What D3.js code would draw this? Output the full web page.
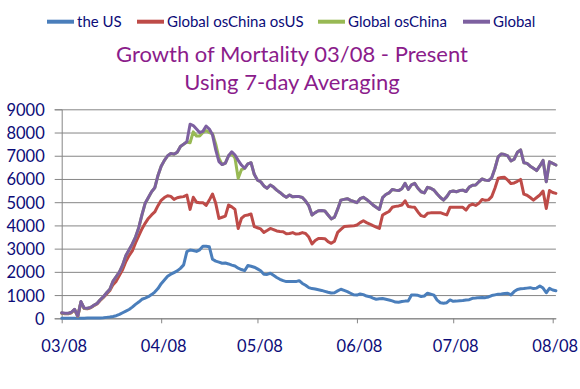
<!DOCTYPE html>
<html>
<head>
<meta charset="utf-8">
<script src="https://cdn.jsdelivr.net/npm/d3@7"></script>
<style>
  body { margin: 0; background: #fff; }
  svg { display: block; font-family: Lato, 'Open Sans', sans-serif; }
</style>
</head>
<body>
<svg id="chart" width="580" height="389"></svg>
<script>
// One value per day, starting on this date
const START_DATE = '2020-03-08';
const END_DATE = '2020-08-09';

// Axis ticks
const xTickDates = ['2020-03-08', '2020-04-08', '2020-05-08', '2020-06-08', '2020-07-08', '2020-08-08'];
const yTicks = [0, 1000, 2000, 3000, 4000, 5000, 6000, 7000, 8000, 9000];

const titleLines = ['Growth of Mortality 03/08 - Present', 'Using 7-day Averaging'];
const seriesNames = ['the US', 'Global osChina osUS', 'Global osChina', 'Global'];

// 7-day averaged daily deaths
const usDeaths = [
  5, 5, 5, 5, 5, 5, 5, 5, 8, 10,
  10, 12, 15, 25, 40, 55, 80, 110, 170, 240,
  310, 380, 480, 600, 700, 820, 870, 930, 1020, 1130,
  1280, 1490, 1650, 1810, 1900, 1970, 2040, 2150, 2300, 2870,
  2940, 2920, 2880, 2950, 3100, 3100, 3080, 2540, 2460, 2420,
  2370, 2380, 2340, 2290, 2250, 2160, 2100, 2050, 2270, 2240,
  2200, 2130, 2050, 1900, 1890, 1940, 1850, 1760, 1680, 1620,
  1580, 1590, 1590, 1580, 1620, 1500, 1420, 1320, 1280, 1260,
  1230, 1200, 1160, 1120, 1090, 1100, 1180, 1250, 1200, 1150,
  1080, 1010, 1000, 1050, 1020, 960, 930, 870, 820, 840,
  850, 820, 790, 750, 700, 690, 720, 740, 750, 1000,
  1000, 990, 940, 960, 1080, 1040, 1000, 780, 670, 650,
  670, 790, 730, 740, 760, 770, 790, 800, 860, 870,
  890, 900, 890, 920, 980, 1010, 1040, 1050, 1070, 1080,
  1010, 1150, 1240, 1270, 1280, 1300, 1320, 1280, 1300, 1390,
  1300, 1100, 1290, 1220, 1190
];

const globalExChinaExUS = [
  220, 200, 195, 240, 370, 80, 690, 420, 410, 450,
  540, 620, 770, 900, 1050, 1200, 1450, 1600, 1850, 2100,
  2450, 2700, 2900, 3250, 3550, 3850, 4090, 4300, 4450, 4580,
  4850, 5080, 5200, 5280, 5250, 5120, 5190, 5220, 5240, 5310,
  4690, 5210, 5000, 4980, 4980, 4860, 5090, 5350, 4950, 4300,
  4350, 4400, 4880, 4800, 4690, 3870, 4300, 4420, 4450, 4490,
  3950, 3900, 3850, 3700, 3780, 3870, 3820, 3760, 3740, 3730,
  3640, 3650, 3690, 3630, 3640, 3690, 3650, 3500, 3200, 3350,
  3440, 3440, 3430, 3300, 3230, 3320, 3700, 3830, 3950, 3960,
  3970, 3980, 4020, 4120, 4200, 4120, 4060, 3990, 3930, 3870,
  4450, 4530, 4600, 4780, 4820, 4840, 4880, 5060, 4810, 4790,
  4780, 4580, 4420, 4380, 4520, 4540, 4550, 4550, 4550, 4500,
  4450, 4780, 4780, 4780, 4780, 4780, 4660, 4850, 4920, 4860,
  4950, 5120, 5080, 5100, 5240, 5600, 6030, 6060, 6070, 5950,
  5800, 5830, 5900, 5980, 5350, 5300, 5200, 5090, 5200, 5310,
  5480, 4730, 5500, 5420, 5380
];

const globalExChina = [
  230, 210, 205, 250, 380, 85, 710, 430, 425, 465,
  555, 635, 795, 925, 1095, 1245, 1595, 1795, 1995, 2295,
  2695, 2945, 3195, 3495, 3895, 4445, 4945, 5195, 5445, 5615,
  6145, 6545, 6795, 6995, 7095, 7065, 7145, 7395, 7495, 7595,
  7560, 8030, 7850, 7850, 8000, 8080, 8000, 7950, 7500, 6900,
  6620, 6680, 7000, 7100, 6900, 6030, 6400, 6460, 6650, 6700,
  6200, 5950, 5880, 5700, 5600, 5740, 5650, 5520, 5420, 5300,
  5210, 5310, 5230, 5240, 5240, 5200, 5050, 4850, 4450, 4550,
  4630, 4640, 4620, 4450, 4280, 4350, 4700, 5090, 5120, 5150,
  5080, 5030, 4980, 5150, 5210, 5120, 5000, 4880, 4780, 4690,
  5200, 5330, 5400, 5550, 5520, 5500, 5580, 5810, 5550, 5750,
  5810, 5600, 5450, 5400, 5640, 5600, 5520, 5350, 5200, 5090,
  5240, 5450, 5480, 5450, 5500, 5520, 5460, 5650, 5730, 5740,
  5880, 6000, 5950, 5930, 6050, 6450, 6950, 7080, 7050, 6990,
  6780, 6850, 7150, 7250, 6700, 6670, 6550, 6460, 6360, 6560,
  6800, 5880, 6740, 6670, 6600
];

const globalDeaths = [
  240, 220, 215, 260, 390, 90, 720, 440, 430, 470,
  560, 640, 800, 930, 1100, 1250, 1600, 1800, 2000, 2300,
  2700, 2950, 3200, 3500, 3900, 4450, 4950, 5200, 5450, 5620,
  6150, 6550, 6800, 7000, 7100, 7070, 7150, 7400, 7500, 7600,
  8360, 8300, 8150, 8000, 8050, 8280, 8150, 7900, 7250, 6750,
  6620, 6680, 7000, 7170, 7030, 6800, 6600, 6460, 6650, 6700,
  6200, 5950, 5880, 5700, 5600, 5740, 5650, 5520, 5420, 5300,
  5210, 5310, 5230, 5240, 5240, 5200, 5050, 4850, 4450, 4550,
  4630, 4640, 4620, 4450, 4280, 4350, 4700, 5090, 5120, 5150,
  5080, 5030, 4980, 5150, 5210, 5120, 5000, 4880, 4780, 4690,
  5200, 5330, 5400, 5550, 5520, 5500, 5580, 5810, 5550, 5750,
  5810, 5600, 5450, 5400, 5640, 5600, 5520, 5350, 5200, 5090,
  5240, 5450, 5480, 5450, 5500, 5520, 5460, 5650, 5730, 5740,
  5880, 6000, 5950, 5930, 6050, 6450, 6950, 7080, 7050, 6990,
  6780, 6850, 7150, 7250, 6700, 6670, 6550, 6460, 6360, 6560,
  6800, 5880, 6740, 6670, 6600
];

const seriesValues = [usDeaths, globalExChinaExUS, globalExChina, globalDeaths];
const seriesColors = ['#4A7EBB', '#BE4B48', '#98B954', '#7D60A0'];

const WIDTH = 580, HEIGHT = 389;
const margin = { top: 109.3, right: 24.1, bottom: 70.7, left: 61.7 };
const AXIS_GREY = '#868686', LABEL_COLOR = '#0c0c78';

const parseDate = d3.timeParse('%Y-%m-%d');
const startDate = parseDate(START_DATE);

const svg = d3.select('#chart');

const x = d3.scaleTime()
  .domain([startDate, parseDate(END_DATE)])
  .range([margin.left, WIDTH - margin.right]);

const y = d3.scaleLinear()
  .domain([0, 9000])
  .range([HEIGHT - margin.bottom, margin.top]);

// Horizontal gridlines with the y axis ticks
const yAxis = svg.append('g')
  .attr('transform', `translate(${margin.left},0)`)
  .call(d3.axisLeft(y)
    .tickValues(yTicks)
    .tickSize(7)
    .tickPadding(10)
    .tickFormat(d3.format('d')));

yAxis.selectAll('.tick line')
  .attr('stroke', AXIS_GREY)
  .attr('x2', WIDTH - margin.right - margin.left)
  .attr('x1', -7);
yAxis.select('.domain').attr('stroke', AXIS_GREY);
yAxis.selectAll('.tick text')
  .attr('fill', LABEL_COLOR)
  .attr('font-size', '16.5px')
  .attr('font-family', 'Lato, sans-serif')
  .attr('dy', '0.36em');

// X axis with monthly ticks
const xAxis = svg.append('g')
  .attr('transform', `translate(0,${HEIGHT - margin.bottom})`)
  .call(d3.axisBottom(x)
    .tickValues(xTickDates.map(parseDate))
    .tickSize(5)
    .tickSizeOuter(0)
    .tickPadding(17)
    .tickFormat(d3.timeFormat('%m/%d')));

xAxis.select('.domain').attr('stroke', AXIS_GREY);
xAxis.selectAll('.tick line').attr('stroke', AXIS_GREY);
xAxis.selectAll('.tick text')
  .attr('fill', LABEL_COLOR)
  .attr('font-size', '16.5px')
  .attr('font-family', 'Lato, sans-serif')
  .attr('x', 2);

// Series lines
const line = d3.line()
  .x((d, i) => x(d3.timeDay.offset(startDate, i)))
  .y(d => y(d));

svg.append('g')
  .selectAll('path')
  .data(seriesValues)
  .enter().append('path')
  .attr('d', d => line(d))
  .attr('fill', 'none')
  .attr('stroke', (d, i) => seriesColors[i])
  .attr('stroke-width', 3)
  .attr('stroke-linejoin', 'round')
  .attr('stroke-linecap', 'round');

// Legend across the top
const legendX = [47, 137, 318, 463];
const legend = svg.append('g')
  .selectAll('g')
  .data(seriesNames)
  .enter().append('g')
  .attr('transform', (d, i) => `translate(${legendX[i]},21.7)`);

legend.append('line')
  .attr('x1', 0)
  .attr('x2', 27)
  .attr('stroke', (d, i) => seriesColors[i])
  .attr('stroke-width', 4);

legend.append('text')
  .attr('x', 30)
  .attr('dy', '0.36em')
  .attr('font-size', '15px')
  .attr('fill', LABEL_COLOR)
  .text(d => d);

// Title, sized so the first line spans the same width as in the source
const title = svg.append('g')
  .attr('fill', '#8B1C8B')
  .attr('text-anchor', 'middle');

const titleText = title.selectAll('text')
  .data(titleLines)
  .enter().append('text')
  .attr('x', 292)
  .attr('y', (d, i) => i === 0 ? 62.3 : 90)
  .attr('font-size', '22px')
  .text(d => d);

const firstWidth = titleText.node().getComputedTextLength();
titleText.attr('font-size', `${22 * 352 / firstWidth}px`);
</script>
</body>
</html>
